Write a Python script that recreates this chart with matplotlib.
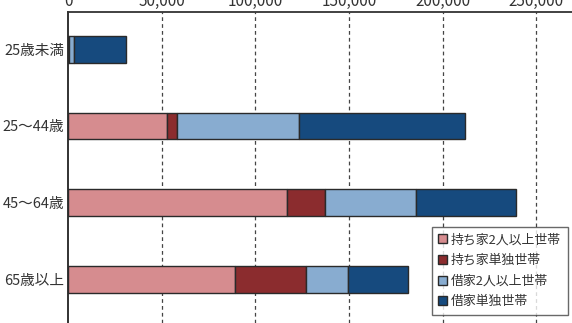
import matplotlib
matplotlib.use("Agg")
import matplotlib.pyplot as plt
import numpy as np

plt.rcParams["font.family"] = ["Noto Sans CJK JP", "DejaVu Sans"]

categories = ["25歳未満", "25～44歳", "45～64歳", "65歳以上"]
series_names = ["持ち家2人以上世帯", "持ち家単独世帯", "借家2人以上世帯", "借家単独世帯"]
owned_multi = [200, 52800, 117100, 89100]
owned_single = [100, 5300, 20000, 37800]
rent_multi = [2800, 65400, 48500, 22800]
rent_single = [27900, 88300, 53800, 31800]
colors = ["#D68C8F", "#8B2C2E", "#88ACD0", "#164A7E"]
xticks = [0, 50000, 100000, 150000, 200000, 250000]

W, H = 572, 323
fig = plt.figure(figsize=(W / 100, H / 100), dpi=100)
ax = fig.add_axes([68.3 / W, 0, 1 - 68.3 / W, 1 - 11.7 / H])

y = np.arange(len(categories))
left = np.zeros(len(categories))
for name, vals, c in zip(series_names, [owned_multi, owned_single, rent_multi, rent_single], colors):
    ax.barh(y, vals, left=left, height=0.35, color=c, edgecolor="#2a2a2a",
            linewidth=1.0, label=name, zorder=3)
    left += np.array(vals)

ax.set_xlim(0, 269200)
ax.set_ylim(3.566, -0.488)
ax.set_yticks(y)
ax.set_yticklabels(categories, fontsize=10.5, color="#333333")
ax.set_xticks(xticks)
ax.set_xticklabels([f"{v:,}" for v in xticks], fontsize=11, color="#333333")
ax.xaxis.tick_top()
ax.tick_params(axis="both", length=0, pad=3)
ax.tick_params(axis="x", pad=1)

for v in xticks[1:]:
    ax.axvline(v, color="#444444", linestyle=(0, (3, 2.5)), linewidth=0.9, zorder=1)

ax.spines["right"].set_visible(False)
ax.spines["bottom"].set_visible(False)
ax.spines["top"].set_color("#333333")
ax.spines["top"].set_linewidth(1.3)
ax.spines["left"].set_color("#222222")
ax.spines["left"].set_linewidth(1.3)

leg = ax.legend(loc="upper left", bbox_to_anchor=(431.7 / W, 1 - 226.7 / H),
                bbox_transform=fig.transFigure, fontsize=9.3, frameon=True,
                fancybox=False, handlelength=0.7, handleheight=0.7,
                handletextpad=0.3, labelspacing=0.6, borderpad=0.5,
                borderaxespad=0)
leg.get_frame().set_edgecolor("#444444")
leg.get_frame().set_linewidth(1.0)
leg.set_zorder(5)
for t in leg.get_texts():
    t.set_color("#333333")

fig.savefig("out.png", dpi=100)
